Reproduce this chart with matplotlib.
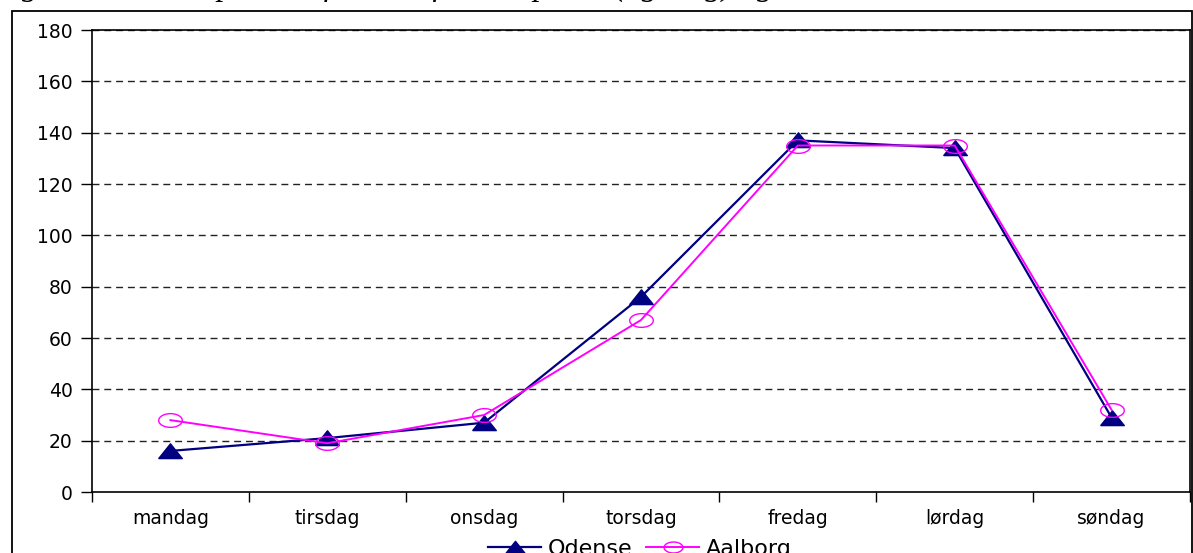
import matplotlib
matplotlib.use("Agg")
import matplotlib.pyplot as plt
from matplotlib.patches import Rectangle
import numpy as np

categories = ["mandag", "tirsdag", "onsdag", "torsdag", "fredag", "lørdag", "søndag"]
odense = [16, 21, 27, 76, 137, 134, 29]
aalborg = [28, 19, 30, 67, 135, 135, 32]
yticks = [0, 20, 40, 60, 80, 100, 120, 140, 160, 180]
title = "Figur 6.3 Antal episoder fordelt efter tidspunkt (ugedag) og sted, 2006"

plt.rcParams['font.family'] = ['DejaVu Sans']

W, H = 1193, 553
fig = plt.figure(figsize=(W / 100, H / 100), dpi=100)

# outer chart border
fig.add_artist(Rectangle((12 / W, -0.05), (1192 - 12) / W, 1.05 - 11 / H,
                         transform=fig.transFigure, fill=False,
                         edgecolor='black', linewidth=1.3, zorder=0))

# partially cut title
fig.text(-0.006, 1 + 5 / H, title, fontsize=23.5, style='italic',
         family=['Liberation Serif', 'DejaVu Serif'], va='baseline', ha='left')

ax = fig.add_axes([92 / W, 1 - 492 / H, (1190 - 92) / W, (492 - 30) / H])

x = np.arange(len(categories))
tri = [(-1, -0.6), (1, -0.6), (0, 0.65), (-1, -0.6)]
t = np.linspace(0, 2 * np.pi, 60)
ell = list(zip(np.cos(t), 0.58 * np.sin(t)))

ax.plot(x, odense, color='#000080', lw=1.6, marker=tri, markersize=17,
        markerfacecolor='#000080', markeredgecolor='#000080', label='Odense', zorder=3)
ax.plot(x, aalborg, color='#FF00FF', lw=1.4, marker=ell, markersize=17,
        markerfacecolor='none', markeredgecolor='#FF00FF', markeredgewidth=1.0,
        label='Aalborg', zorder=4)

ax.set_xlim(-0.5, len(categories) - 0.5)
ax.set_ylim(0, 180)
ax.set_yticks(yticks)
ax.set_yticklabels([str(v) for v in yticks], fontsize=13.5)
ax.set_xticks(x)
ax.set_xticklabels(categories, fontsize=13.5)
ax.set_xticks(np.arange(len(categories) + 1) - 0.5, minor=True)
ax.tick_params(axis='x', which='major', length=0, pad=12)
ax.tick_params(axis='x', which='minor', length=7, direction='out', width=1)
ax.tick_params(axis='y', length=8, direction='out', width=1, pad=6)

for v in yticks[1:]:
    ax.axhline(v, color='#222222', lw=1.0, ls=(0, (5, 3.5)), zorder=1)

for s in ax.spines.values():
    s.set_linewidth(1.2)
    s.set_color('black')

leg = fig.legend(loc='center', bbox_to_anchor=(640 / W, 1 - 549 / H), ncol=2,
                 frameon=False, fontsize=16, handlelength=2.4, columnspacing=0.6,
                 handletextpad=0.3, borderpad=0, markerscale=0.8)

fig.savefig("out.png", dpi=100)
